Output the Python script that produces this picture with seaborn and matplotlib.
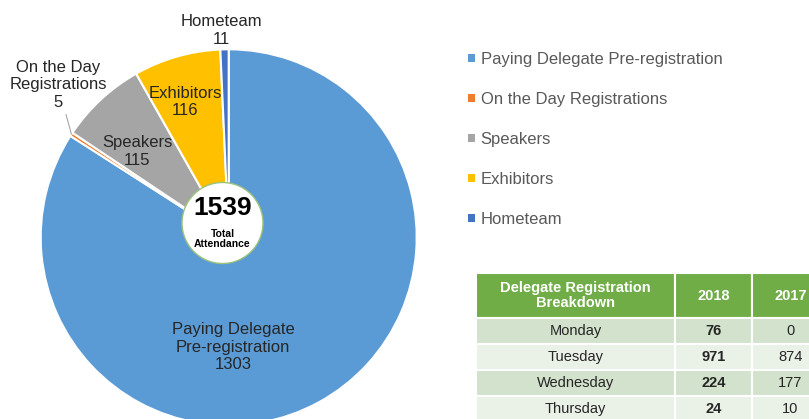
import numpy as np
import pandas as pd
import seaborn as sns
import matplotlib.pyplot as plt
from matplotlib.patches import Circle, Patch

# chart data
categories = ["Paying Delegate Pre-registration", "On the Day Registrations",
              "Speakers", "Exhibitors", "Hometeam"]
counts = [1303, 5, 115, 116, 11]
slice_labels = ["Paying Delegate\nPre-registration\n1303", "On the Day\nRegistrations\n5",
                "Speakers\n115", "Exhibitors\n116", "Hometeam\n11"]
colors = ["#5B9BD5", "#ED7D31", "#A5A5A5", "#FFC000", "#4472C4"]
total_attendance = 1539

# table data
table_header = ["Delegate Registration\nBreakdown", "2018", "2017"]
days = ["Monday", "Tuesday", "Wednesday", "Thursday"]
reg_2018 = [76, 971, 224, 24]
reg_2017 = [0, 874, 177, 10]

sns.set_theme(style="white")
plt.rcParams['font.family'] = ['Liberation Sans', 'DejaVu Sans']

W, H = 809, 419
fig = plt.figure(figsize=(W / 100, H / 100), dpi=100)
ax = fig.add_axes([0, 0, 1, 1])

# pie (axes works in pixel-like units, y up)
pie_center = (228.7, H - 237.3)
wedges, _ = ax.pie(counts, colors=colors, startangle=90, counterclock=False,
                   center=pie_center, radius=188,
                   wedgeprops=dict(edgecolor='white', linewidth=1.5))
ax.set_xlim(0, W)
ax.set_ylim(0, H)
ax.axis('off')

# slice labels (Excel "best fit" style positions)
label_pos = [(233, 347), (58, 85), (137, 151.5), (185, 102), (221, 30.5)]
for i, (lab, (px, py)) in enumerate(zip(slice_labels, label_pos)):
    if i == 1:
        w = wedges[1]
        mid = np.deg2rad((w.theta1 + w.theta2) / 2)
        tip = (pie_center[0] + 188 * np.cos(mid), pie_center[1] + 188 * np.sin(mid))
        ax.annotate(lab, xy=tip, xytext=(px, H - py), ha='center', va='center',
                    fontsize=12, color='#262626', linespacing=1.2,
                    arrowprops=dict(arrowstyle='-', color='#A6A6A6', lw=0.8,
                                    shrinkA=1, shrinkB=0))
    else:
        ax.text(px, H - py, lab, ha='center', va='center', fontsize=12,
                color='#262626', linespacing=1.2)

# centre badge
ax.add_patch(Circle((222.5, H - 223), 40.5, facecolor='white',
                    edgecolor='#9CC27C', lw=1.0, zorder=5))
ax.text(222.5, H - 208, str(total_attendance), ha='center', va='center',
        fontsize=19, fontweight='bold', color='black', zorder=6)
ax.text(222.5, H - 239, "Total\nAttendance", ha='center', va='center',
        fontsize=7.5, fontweight='bold', color='black', linespacing=1.0, zorder=6)

# legend
handles = [Patch(facecolor=c, edgecolor='none') for c in colors]
leg = ax.legend(handles, categories, loc='upper left',
                bbox_to_anchor=(468 / W, 1 - 52 / H), bbox_transform=fig.transFigure,
                frameon=False, fontsize=12, labelspacing=1.5,
                handlelength=0.4, handleheight=0.4, handletextpad=0.35,
                borderpad=0, borderaxespad=0)
for t in leg.get_texts():
    t.set_color('#595959')

# registration table
cell_text = [[d, str(a), str(b)] for d, a, b in zip(days, reg_2018, reg_2017)]
tbl = ax.table(cellText=cell_text, colLabels=table_header, cellLoc='center',
               colWidths=[199 / W, 77 / W, 77 / W],
               bbox=[476 / W, -3 / H, 353 / W, 149 / H])
tbl.auto_set_font_size(False)
tbl.set_fontsize(10.5)
row_fill = ['#D3E2CC', '#EAF1E7']
for (r, c), cell in tbl.get_celld().items():
    cell.set_edgecolor('white')
    cell.set_linewidth(1.5)
    txt = cell.get_text()
    if r == 0:
        cell.set_facecolor('#70AD47')
        cell.set_height(cell.get_height() * 45 / 26)
        txt.set_color('white')
        txt.set_fontweight('bold')
        txt.set_linespacing(1.1)
    else:
        cell.set_facecolor(row_fill[(r - 1) % 2])
        txt.set_color('#262626')
        if c == 1:
            txt.set_fontweight('bold')

fig.savefig("out.png", dpi=100)
